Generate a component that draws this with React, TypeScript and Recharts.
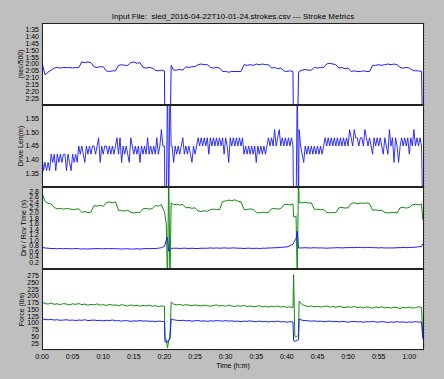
import React from 'react';
import { LineChart, Line, XAxis, YAxis, CartesianGrid } from 'recharts';

// elapsed time of each sample (minutes)
const minutes = [
  0, 0.5, 1, 1.5, 2, 2.5, 3, 3.5, 4, 4.5,
  5, 5.5, 6, 6.5, 7, 7.5, 8, 8.5, 9, 9.5,
  10, 10.5, 11, 11.5, 12, 12.5, 13, 13.5, 14, 14.5,
  15, 15.5, 16, 16.5, 17, 17.5, 18, 18.5, 19, 19.5,
  20,
  20.1, 20.3, 20.5, 20.7, 20.9, 21.1,
  21.5, 22, 22.5, 23, 23.5, 24, 24.5, 25, 25.5, 26,
  26.5, 27, 27.5, 28, 28.5, 29, 29.5, 30, 30.5, 31,
  31.5, 32, 32.5, 33, 33.5, 34, 34.5, 35, 35.5, 36,
  36.5, 37, 37.5, 38, 38.5, 39, 39.5, 40, 40.5, 41,
  41.1, 41.3, 41.5, 41.7, 41.9,
  42, 42.5, 43, 43.5, 44, 44.5, 45, 45.5, 46, 46.5,
  47, 47.5, 48, 48.5, 49, 49.5, 50, 50.5, 51, 51.5,
  52, 52.5, 53, 53.5, 54, 54.5, 55, 55.5, 56, 56.5,
  57, 57.5, 58, 58.5, 59, 59.5, 60, 60.5, 61, 61.5,
  62,
  62.2, 62.3,
];

// pace, seconds per 500 m
const paceSec = [
  119, 128, 126, 124.5, 123, 122.5, 123, 122.5, 122.7, 122.5,
  123, 122.5, 122.7, 118.5, 119, 118.5, 119, 122, 122.5, 122,
  122, 125, 125.5, 125, 125, 121, 120.5, 121, 121, 119,
  118.5, 119.5, 119, 122.5, 123, 122.5, 123, 124.5, 125, 124.5,
  125,
  180, 180, 180, 180, 180, 121,
  124.5, 124.5, 124, 124.5, 122, 122.5, 122, 122, 120.5, 120,
  120.5, 120.5, 122.5, 123, 122.5, 123, 125.5, 125.5, 126, 125.5,
  125.5, 125.5, 125.5, 120.5, 121, 120.5, 121, 120, 120.5, 120,
  120.5, 120.5, 123, 122.5, 123.5, 123, 125, 125.5, 125, 125.5,
  180, 180, 180, 180, 127,
  125.5, 124.5, 124, 124.5, 124.5, 122.5, 123, 122.5, 122.5, 120,
  119.5, 120, 120.5, 123, 122.5, 123.5, 123, 125.5, 125, 125.5,
  125.5, 125, 125.5, 125.5, 121, 121, 120.5, 121, 120.5, 120,
  120.5, 120, 120.5, 122.5, 123, 122.5, 123, 124.5, 125, 125,
  125.5,
  180, 180,
];

// drive length is sampled more finely (minutes)
const lenMinutes = [
  0, 0.25, 0.5, 0.75, 1, 1.25, 1.5, 1.75, 2, 2.25,
  2.5, 2.75, 3, 3.25, 3.5, 3.75, 4, 4.25, 4.5, 4.75,
  5, 5.25, 5.5, 5.75, 6, 6.25, 6.5, 6.75, 7, 7.25,
  7.5, 7.75, 8, 8.25, 8.5, 8.75, 9, 9.25, 9.5, 9.75,
  10, 10.25, 10.5, 10.75, 11, 11.25, 11.5, 11.75, 12, 12.25,
  12.5, 12.75, 13, 13.25, 13.5, 13.75, 14, 14.25, 14.5, 14.75,
  15, 15.25, 15.5, 15.75, 16, 16.25, 16.5, 16.75, 17, 17.25,
  17.5, 17.75, 18, 18.25, 18.5, 18.75, 19, 19.25, 19.5, 19.75,
  20,
  20.1, 20.3, 20.5, 20.7, 20.9, 21.1,
  21.25, 21.5, 21.75, 22, 22.25, 22.5, 22.75, 23, 23.25, 23.5,
  23.75, 24, 24.25, 24.5, 24.75, 25, 25.25, 25.5, 25.75, 26,
  26.25, 26.5, 26.75, 27, 27.25, 27.5, 27.75, 28, 28.25, 28.5,
  28.75, 29, 29.25, 29.5, 29.75, 30, 30.25, 30.5, 30.75, 31,
  31.25, 31.5, 31.75, 32, 32.25, 32.5, 32.75, 33, 33.25, 33.5,
  33.75, 34, 34.25, 34.5, 34.75, 35, 35.25, 35.5, 35.75, 36,
  36.25, 36.5, 36.75, 37, 37.25, 37.5, 37.75, 38, 38.25, 38.5,
  38.75, 39, 39.25, 39.5, 39.75, 40, 40.25, 40.5, 40.75, 41,
  41.1, 41.3, 41.5, 41.7, 41.9,
  42, 42.25, 42.5, 42.75, 43, 43.25, 43.5, 43.75, 44, 44.25,
  44.5, 44.75, 45, 45.25, 45.5, 45.75, 46, 46.25, 46.5, 46.75,
  47, 47.25, 47.5, 47.75, 48, 48.25, 48.5, 48.75, 49, 49.25,
  49.5, 49.75, 50, 50.25, 50.5, 50.75, 51, 51.25, 51.5, 51.75,
  52, 52.25, 52.5, 52.75, 53, 53.25, 53.5, 53.75, 54, 54.25,
  54.5, 54.75, 55, 55.25, 55.5, 55.75, 56, 56.25, 56.5, 56.75,
  57, 57.25, 57.5, 57.75, 58, 58.25, 58.5, 58.75, 59, 59.25,
  59.5, 59.75, 60, 60.25, 60.5, 60.75, 61, 61.25, 61.5, 61.75,
  62,
  62.2, 62.3,
];

// drive length, metres
const driveLen = [
  1.42, 1.36, 1.39, 1.36, 1.39, 1.36, 1.42, 1.39, 1.42, 1.36,
  1.42, 1.39, 1.42, 1.39, 1.42, 1.42, 1.36, 1.42, 1.39, 1.36,
  1.42, 1.39, 1.42, 1.39, 1.45, 1.42, 1.45, 1.42, 1.39, 1.45,
  1.42, 1.45, 1.42, 1.45, 1.45, 1.42, 1.45, 1.48, 1.39, 1.45,
  1.42, 1.45, 1.45, 1.42, 1.45, 1.42, 1.45, 1.42, 1.45, 1.48,
  1.42, 1.48, 1.39, 1.45, 1.42, 1.45, 1.42, 1.39, 1.48, 1.45,
  1.42, 1.45, 1.42, 1.45, 1.39, 1.45, 1.42, 1.45, 1.42, 1.48,
  1.42, 1.45, 1.42, 1.45, 1.42, 1.48, 1.42, 1.45, 1.51, 1.45,
  1.45,
  1.2, 1.2, 1.7, 1.2, 1.7, 1.45,
  1.45, 1.39, 1.45, 1.42, 1.45, 1.42, 1.45, 1.48, 1.42, 1.45,
  1.42, 1.45, 1.42, 1.39, 1.45, 1.42, 1.45, 1.48, 1.45, 1.48,
  1.45, 1.48, 1.45, 1.48, 1.42, 1.48, 1.45, 1.48, 1.45, 1.48,
  1.45, 1.48, 1.45, 1.48, 1.42, 1.48, 1.45, 1.39, 1.48, 1.45,
  1.48, 1.45, 1.48, 1.45, 1.48, 1.45, 1.48, 1.42, 1.45, 1.42,
  1.45, 1.42, 1.45, 1.42, 1.45, 1.39, 1.45, 1.42, 1.45, 1.42,
  1.45, 1.42, 1.45, 1.48, 1.45, 1.48, 1.45, 1.51, 1.45, 1.48,
  1.51, 1.45, 1.48, 1.45, 1.48, 1.45, 1.48, 1.45, 1.48, 1.45,
  1.2, 1.2, 1.2, 1.7, 1.2,
  1.51, 1.45, 1.42, 1.39, 1.45, 1.42, 1.45, 1.42, 1.45, 1.42,
  1.45, 1.42, 1.45, 1.42, 1.45, 1.42, 1.45, 1.48, 1.45, 1.48,
  1.45, 1.48, 1.45, 1.48, 1.45, 1.48, 1.45, 1.48, 1.45, 1.48,
  1.45, 1.48, 1.45, 1.51, 1.48, 1.45, 1.51, 1.48, 1.48, 1.45,
  1.48, 1.48, 1.45, 1.51, 1.48, 1.45, 1.48, 1.45, 1.42, 1.48,
  1.45, 1.48, 1.45, 1.48, 1.45, 1.42, 1.48, 1.45, 1.42, 1.51,
  1.45, 1.48, 1.39, 1.48, 1.45, 1.39, 1.45, 1.48, 1.45, 1.48,
  1.45, 1.48, 1.42, 1.48, 1.45, 1.51, 1.45, 1.48, 1.45, 1.48,
  1.45,
  1.2, 1.2,
];

// drive time, seconds
const driveTime = [
  0.74, 0.72, 0.71, 0.7, 0.7, 0.69, 0.7, 0.69, 0.7, 0.69,
  0.69, 0.7, 0.69, 0.68, 0.69, 0.68, 0.69, 0.69, 0.7, 0.69,
  0.69, 0.7, 0.69, 0.7, 0.69, 0.69, 0.68, 0.69, 0.69, 0.68,
  0.68, 0.69, 0.68, 0.69, 0.7, 0.69, 0.7, 0.7, 0.71, 0.73,
  0.78,
  0.85, 1.0, 1.11, 0.6, 0.65, 0.7,
  0.71, 0.71, 0.7, 0.71, 0.71, 0.7, 0.71, 0.7, 0.7, 0.71,
  0.71, 0.71, 0.72, 0.71, 0.72, 0.71, 0.72, 0.72, 0.71, 0.72,
  0.72, 0.71, 0.71, 0.7, 0.71, 0.71, 0.7, 0.71, 0.7, 0.71,
  0.71, 0.72, 0.72, 0.73, 0.73, 0.74, 0.75, 0.76, 0.8, 0.86,
  0.92, 0.98, 1.05, 1.33, 0.72,
  0.72, 0.72, 0.73, 0.72, 0.72, 0.73, 0.72, 0.72, 0.72, 0.71,
  0.72, 0.72, 0.73, 0.73, 0.72, 0.73, 0.73, 0.74, 0.73, 0.74,
  0.74, 0.73, 0.74, 0.74, 0.73, 0.73, 0.72, 0.73, 0.72, 0.72,
  0.72, 0.72, 0.73, 0.73, 0.74, 0.73, 0.74, 0.74, 0.75, 0.76,
  0.78,
  0.86, 0.86,
];

// recovery time, seconds
const recoveryTime = [
  2.74, 2.42, 2.35, 2.33, 2.2, 2.15, 2.17, 2.14, 2.16, 2.15,
  2.12, 2.14, 2.15, 2.02, 2.05, 2.01, 2.03, 2.27, 2.25, 2.28,
  2.24, 2.38, 2.4, 2.37, 2.41, 2.1, 2.08, 2.07, 2.1, 2.02,
  2.0, 2.02, 2.01, 2.15, 2.17, 2.14, 2.16, 2.27, 2.25, 2.3,
  2.05,
  1.9, 1.6, -0.5, 3.5, -0.5, 2.37,
  2.3, 2.32, 2.29, 2.31, 2.19, 2.2, 2.17, 2.19, 2.07, 2.05,
  2.08, 2.06, 2.12, 2.14, 2.13, 2.12, 2.42, 2.44, 2.47, 2.45,
  2.48, 2.43, 2.41, 2.13, 2.12, 2.15, 2.13, 2.02, 2.0, 2.03,
  2.01, 2.02, 2.15, 2.17, 2.14, 2.16, 2.3, 2.32, 2.29, 2.33,
  1.86, 1.85, 1.9, -0.5, 3.5,
  2.38, 2.37, 2.39, 2.36, 2.37, 2.13, 2.14, 2.12, 2.13, 2.02,
  2.0, 2.02, 2.01, 2.19, 2.2, 2.18, 2.19, 2.35, 2.37, 2.34,
  2.36, 2.35, 2.37, 2.34, 2.1, 2.11, 2.09, 2.1, 2.02, 2.0,
  2.01, 2.03, 2.0, 2.19, 2.2, 2.18, 2.2, 2.3, 2.32, 2.29,
  2.33,
  1.76, 1.76,
];

// peak force, lbs
const peakForce = [
  178, 172, 170, 174, 169, 171, 168, 172, 170, 167,
  171, 169, 172, 168, 170, 166, 169, 167, 171, 166,
  168, 165, 169, 166, 167, 164, 168, 165, 163, 167,
  164, 166, 162, 165, 163, 166, 162, 164, 161, 163,
  162,
  40, 38, 8, 35, 45, 178,
  170, 167, 169, 165, 168, 166, 164, 167, 165, 163,
  166, 164, 162, 165, 167, 163, 165, 162, 166, 163,
  161, 164, 162, 165, 161, 163, 160, 162, 164, 160,
  162, 159, 162, 160, 163, 159, 161, 158, 160, 157,
  279, 50, 48, 52, 55,
  181, 168, 164, 161, 163, 160, 162, 159, 161, 163,
  159, 161, 158, 162, 159, 157, 160, 158, 161, 157,
  159, 156, 160, 158, 155, 159, 157, 160, 156, 158,
  155, 159, 157, 154, 158, 156, 159, 155, 157, 160,
  158,
  50, 48,
];

// average force, lbs
const avgForce = [
  116, 113, 112, 113, 111, 112, 110, 111, 112, 110,
  111, 109, 111, 110, 112, 109, 110, 111, 109, 110,
  108, 110, 109, 111, 108, 109, 107, 109, 108, 106,
  108, 107, 109, 107, 108, 106, 107, 105, 107, 106,
  105,
  30, 30, 29, 38, 40, 115,
  112, 110, 109, 110, 108, 109, 107, 108, 109, 107,
  108, 106, 108, 107, 109, 108, 107, 109, 107, 108,
  106, 107, 105, 107, 106, 108, 106, 105, 107, 105,
  106, 104, 106, 105, 107, 104, 105, 103, 105, 104,
  35, 32, 34, 36, 38,
  115, 110, 109, 108, 107, 108, 106, 107, 105, 106,
  107, 105, 106, 104, 106, 105, 103, 105, 106, 104,
  105, 103, 105, 104, 106, 104, 103, 105, 104, 102,
  104, 103, 105, 103, 104, 102, 104, 103, 105, 103,
  104,
  42, 38,
];

const timeTicks = [0, 5, 10, 15, 20, 25, 30, 35, 40, 45, 50, 55, 60];
const paceTicks = [95, 100, 105, 110, 115, 120, 125, 130, 135, 140, 145];
const lenTicks = [1.35, 1.4, 1.45, 1.5, 1.55];
const secTicks = [0.2, 0.4, 0.6, 0.8, 1.0, 1.2, 1.4, 1.6, 1.8, 2.0, 2.2, 2.4, 2.6, 2.8];
const forceTicks = [25, 50, 75, 100, 125, 150, 175, 200, 225, 250, 275];

const rows = minutes.map((t, i) => ({
  t,
  pace: paceSec[i],
  drv: driveTime[i],
  rcv: recoveryTime[i],
  peak: peakForce[i],
  avg: avgForce[i],
}));
const lenRows = lenMinutes.map((t, i) => ({ t, len: driveLen[i] }));

const FONT = '"Liberation Sans", Arial, Helvetica, sans-serif';
const W = 444;
const LEFT = 42;
const RIGHT = 20;
const PLOT_W = W - LEFT - RIGHT;
const BLUE = '#1a1aff';
const GREEN = '#108a10';

const pad2 = (n: number) => String(Math.round(n)).padStart(2, '0');
const fmtMin = (m: number) => `${Math.floor(m / 60)}:${pad2(m % 60)}`;
const fmtPace = (s: number) => `${Math.floor(s / 60)}:${pad2(s % 60)}`;

const tickStyle = { fontSize: 7, fill: '#000', fontFamily: FONT };

const panels = [
  { top: 23, h: 82, label: '(sec/500)', lx: 21 },
  { top: 105, h: 82, label: 'Drive Len(m)', lx: 21 },
  { top: 187, h: 82, label: 'Drv / Rcv Time (s)', lx: 24 },
  { top: 269, h: 81, label: 'Force (lbs)', lx: 22 },
];

function timeAxis(show: boolean) {
  return (
    <XAxis
      dataKey="t"
      type="number"
      domain={[0, 62.4]}
      allowDataOverflow
      ticks={timeTicks}
      interval={0}
      tickFormatter={fmtMin}
      height={show ? 30 : 0}
      tick={show ? tickStyle : false}
      axisLine={false}
      tickLine={false}
      tickSize={0}
      tickMargin={4}
    />
  );
}

const grid = <CartesianGrid stroke="#7a7a7a" strokeDasharray="1 2" strokeWidth={0.8} />;

export default function App() {
  return (
    <div
      style={{
        position: 'absolute',
        left: 0,
        top: 0,
        width: W,
        height: 379,
        background: '#bfbfbf',
        fontFamily: FONT,
        overflow: 'hidden',
      }}
    >
      <div style={{ position: 'absolute', left: 0, top: panels[0].top }}>
        <LineChart width={W} height={panels[0].h} data={rows} margin={{ top: 0, right: RIGHT, bottom: 0, left: 0 }}>
          <rect x={LEFT} y={0} width={PLOT_W} height={panels[0].h} fill="#fff" />
          {grid}
          {timeAxis(false)}
          <YAxis
            width={LEFT}
            domain={[90, 150]}
            reversed
            allowDataOverflow
            ticks={paceTicks}
            interval={0}
            tickFormatter={fmtPace}
            tick={tickStyle}
            axisLine={false}
            tickLine={false}
            tickSize={0}
            tickMargin={3}
          />
          <Line dataKey="pace" stroke={BLUE} strokeWidth={1} dot={false} isAnimationActive={false} />
        </LineChart>
      </div>

      <div style={{ position: 'absolute', left: 0, top: panels[1].top }}>
        <LineChart width={W} height={panels[1].h} data={lenRows} margin={{ top: 0, right: RIGHT, bottom: 0, left: 0 }}>
          <rect x={LEFT} y={0} width={PLOT_W} height={panels[1].h} fill="#fff" />
          {grid}
          {timeAxis(false)}
          <YAxis
            width={LEFT}
            domain={[1.3, 1.6]}
            allowDataOverflow
            ticks={lenTicks}
            interval={0}
            tickFormatter={(v: number) => v.toFixed(2)}
            tick={tickStyle}
            axisLine={false}
            tickLine={false}
            tickSize={0}
            tickMargin={3}
          />
          <Line dataKey="len" stroke={BLUE} strokeWidth={0.9} dot={false} isAnimationActive={false} />
        </LineChart>
      </div>

      <div style={{ position: 'absolute', left: 0, top: panels[2].top }}>
        <LineChart width={W} height={panels[2].h} data={rows} margin={{ top: 0, right: RIGHT, bottom: 0, left: 0 }}>
          <rect x={LEFT} y={0} width={PLOT_W} height={panels[2].h} fill="#fff" />
          {grid}
          {timeAxis(false)}
          <YAxis
            width={LEFT}
            domain={[-0.05, 2.95]}
            allowDataOverflow
            ticks={secTicks}
            interval={0}
            tickFormatter={(v: number) => v.toFixed(1)}
            tick={tickStyle}
            axisLine={false}
            tickLine={false}
            tickSize={0}
            tickMargin={3}
          />
          <Line dataKey="rcv" stroke={GREEN} strokeWidth={1} dot={false} isAnimationActive={false} />
          <Line dataKey="drv" stroke={BLUE} strokeWidth={1} dot={false} isAnimationActive={false} />
        </LineChart>
      </div>

      <div style={{ position: 'absolute', left: 0, top: panels[3].top }}>
        <LineChart width={W} height={panels[3].h + 30} data={rows} margin={{ top: 0, right: RIGHT, bottom: 0, left: 0 }}>
          <rect x={LEFT} y={0} width={PLOT_W} height={panels[3].h} fill="#fff" />
          {grid}
          {timeAxis(true)}
          <YAxis
            width={LEFT}
            domain={[0, 300]}
            allowDataOverflow
            ticks={forceTicks}
            interval={0}
            tick={tickStyle}
            axisLine={false}
            tickLine={false}
            tickSize={0}
            tickMargin={3}
          />
          <Line dataKey="peak" stroke={GREEN} strokeWidth={1} dot={false} isAnimationActive={false} />
          <Line dataKey="avg" stroke={BLUE} strokeWidth={1} dot={false} isAnimationActive={false} />
        </LineChart>
      </div>

      <svg width={W} height={379} style={{ position: 'absolute', left: 0, top: 0, pointerEvents: 'none' }}>
        <text x={LEFT + PLOT_W / 2} y={19} textAnchor="middle" fontSize={8} fontFamily={FONT} style={{ whiteSpace: 'pre' }}>
          {'Input File:  sled_2016-04-22T10-01-24.strokes.csv --- Stroke Metrics'}
        </text>
        {panels.map((p) => (
          <g key={p.label}>
            <rect x={LEFT + 0.5} y={p.top + 0.5} width={PLOT_W - 1} height={p.h - 1} fill="none" stroke="#222" strokeWidth={1} />
            <text
              x={p.lx}
              y={p.top + p.h / 2}
              transform={`rotate(-90 ${p.lx} ${p.top + p.h / 2})`}
              textAnchor="middle"
              dominantBaseline="middle"
              fontSize={7}
              fontFamily={FONT}
            >
              {p.label}
            </text>
          </g>
        ))}
        <text x={LEFT + PLOT_W / 2} y={368} textAnchor="middle" fontSize={7} fontFamily={FONT}>
          Time (h:m)
        </text>
      </svg>
    </div>
  );
}
